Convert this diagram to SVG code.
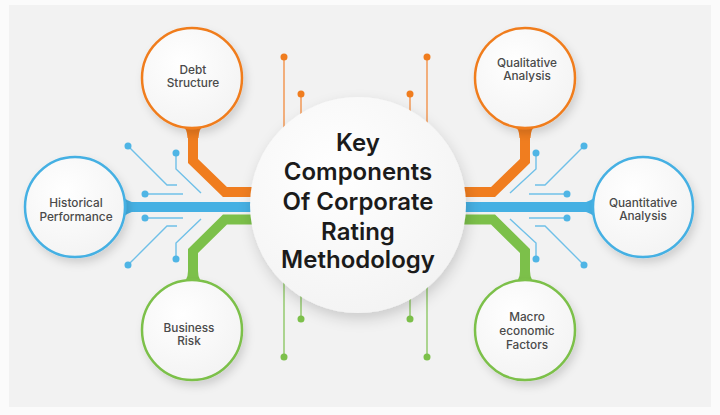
<svg xmlns="http://www.w3.org/2000/svg" width="720" height="415" viewBox="0 0 720 415">
<defs>
<filter id="sh" x="-30%" y="-30%" width="160%" height="160%">
<feDropShadow dx="3" dy="5" stdDeviation="4" flood-color="#000" flood-opacity="0.14"/>
</filter>
<filter id="shc" x="-30%" y="-30%" width="160%" height="160%">
<feDropShadow dx="2" dy="6" stdDeviation="7" flood-color="#000" flood-opacity="0.16"/>
</filter>
<radialGradient id="g" cx="40%" cy="35%" r="70%">
<stop offset="0" stop-color="#ffffff"/>
<stop offset="1" stop-color="#f3f3f3"/>
</radialGradient>
<style>
.o{stroke:#f07d1f}
.b{stroke:#45b0e3}
.gr{stroke:#7cc04a}
.thick{fill:none;stroke-width:10;stroke-linejoin:miter}
.thin{fill:none;stroke-width:1.4}
.tb{stroke:#6fc0e8}
.to{stroke:#f2924a}
.tg{stroke:#8ec865}
.db{fill:#4fb5e5}
.do{fill:#f07d1f}
.dg{fill:#7cc04a}
.node{fill:url(#g);stroke-width:2.5;filter:url(#sh)}
.lbl{font-family:Inter,"Liberation Sans",sans-serif;font-size:11.8px;font-weight:500;fill:#4a4a4a;text-anchor:middle}
.title{font-family:Inter,"Liberation Sans",sans-serif;font-size:24px;font-weight:600;fill:#1b1b1b;text-anchor:middle}
</style>
</defs>
<rect width="720" height="415" fill="#fbfbfb"/>
<rect x="9" y="5" width="702" height="402" fill="#f2f2f2"/>
<g id="connectors">
<polyline class="thin tb" points="128,146 167,185 177,185"/>
<polyline class="thin tb" points="176,153 176,169 201,193"/>
<polyline class="thin tb" points="145,194 183,194"/>
<polyline class="thin tb" points="145,218 183,218"/>
<polyline class="thin tb" points="128,265 167,226 177,226"/>
<polyline class="thin tb" points="176,259 176,243 201,219"/>
<g class="db"><circle cx="128" cy="146" r="3.5"/><circle cx="176" cy="153" r="3.5"/><circle cx="145" cy="194" r="3.5"/><circle cx="145" cy="218" r="3.5"/><circle cx="128" cy="265" r="3.5"/><circle cx="176" cy="259" r="3.5"/></g>
<polyline class="thin tb" points="584,146 545,185 535,185"/>
<polyline class="thin tb" points="536,153 536,169 510,193"/>
<polyline class="thin tb" points="567,194 529,194"/>
<polyline class="thin tb" points="567,218 529,218"/>
<polyline class="thin tb" points="584,265 545,226 535,226"/>
<polyline class="thin tb" points="536,259 536,243 510,219"/>
<g class="db"><circle cx="584" cy="146" r="3.5"/><circle cx="536" cy="153" r="3.5"/><circle cx="567" cy="194" r="3.5"/><circle cx="567" cy="218" r="3.5"/><circle cx="584" cy="265" r="3.5"/><circle cx="536" cy="259" r="3.5"/></g>
<line class="thin to" x1="284" y1="57" x2="284" y2="160"/>
<line class="thin to" x1="301" y1="94" x2="301" y2="160"/>
<line class="thin to" x1="427" y1="57" x2="427" y2="160"/>
<line class="thin to" x1="410" y1="94" x2="410" y2="160"/>
<g class="do"><circle cx="284" cy="57" r="3.5"/><circle cx="301" cy="94" r="3.5"/><circle cx="427" cy="57" r="3.5"/><circle cx="410" cy="94" r="3.5"/></g>
<line class="thin tg" x1="284" y1="250" x2="284" y2="357"/>
<line class="thin tg" x1="301" y1="250" x2="301" y2="319"/>
<line class="thin tg" x1="427" y1="250" x2="427" y2="357"/>
<line class="thin tg" x1="410" y1="250" x2="410" y2="319"/>
<g class="dg"><circle cx="284" cy="357" r="3.5"/><circle cx="301" cy="319" r="3.5"/><circle cx="427" cy="357" r="3.5"/><circle cx="410" cy="319" r="3.5"/></g>
<path class="thick o" d="M193 126 L193 161 L225 192 L270 192" stroke-width="11"/>
<path class="thick o" d="M525 126 L525 161 L493 192 L448 192" stroke-width="11"/>
<path class="thick gr" d="M270 219.5 L225 219.5 L193 251 L193 284" stroke-width="10"/>
<path class="thick gr" d="M448 219.5 L493 219.5 L525 251 L525 284" stroke-width="10"/>
<path class="thick b" d="M118 207 L600 207" stroke-width="9"/>
<path fill="#f07d1f" d="M180 124 Q187.5 128 187.5 138 L198.5 138 Q198.5 128 206 124 Z"/>
<path fill="#f07d1f" d="M512 124 Q519.5 128 519.5 138 L530.5 138 Q530.5 128 538 124 Z"/>
<path fill="#7cc04a" d="M180 285 Q188 281 188 271 L198 271 Q198 281 206 285 Z"/>
<path fill="#7cc04a" d="M512 285 Q520 281 520 271 L530 271 Q530 281 538 285 Z"/>
<path fill="#45b0e3" d="M120 193 Q126 202.5 137 202.5 L137 211.5 Q126 211.5 120 221 Z"/>
<path fill="#45b0e3" d="M598 193 Q592 202.5 581 202.5 L581 211.5 Q592 211.5 598 221 Z"/>
</g>
<g id="center">
<circle cx="358" cy="205" r="108" fill="url(#g)" filter="url(#shc)"/>
<text class="title" x="358" y="151">Key</text>
<text class="title" x="358" y="180">Components</text>
<text class="title" x="358" y="210">Of Corporate</text>
<text class="title" x="358" y="240">Rating</text>
<text class="title" x="358" y="268">Methodology</text>
</g>
<g id="debt-structure">
<circle class="node o" cx="192" cy="78" r="50"/>
<text class="lbl" x="193" y="74">Debt</text>
<text class="lbl" x="193" y="87">Structure</text>
</g>
<g id="qualitative-analysis">
<circle class="node o" cx="525" cy="78" r="50"/>
<text class="lbl" x="527" y="67">Qualitative</text>
<text class="lbl" x="527" y="80">Analysis</text>
</g>
<g id="historical-performance">
<circle class="node b" cx="75" cy="207" r="50"/>
<text class="lbl" x="76" y="207">Historical</text>
<text class="lbl" x="76" y="221">Performance</text>
</g>
<g id="quantitative-analysis">
<circle class="node b" cx="643" cy="207" r="50"/>
<text class="lbl" x="643" y="207">Quantitative</text>
<text class="lbl" x="643" y="220">Analysis</text>
</g>
<g id="business-risk">
<circle class="node gr" cx="192" cy="330" r="50"/>
<text class="lbl" x="189" y="332">Business</text>
<text class="lbl" x="189" y="345">Risk</text>
</g>
<g id="macro-economic-factors">
<circle class="node gr" cx="525" cy="330" r="50"/>
<text class="lbl" x="527" y="321">Macro</text>
<text class="lbl" x="527" y="335">economic</text>
<text class="lbl" x="527" y="349">Factors</text>
</g>
</svg>
